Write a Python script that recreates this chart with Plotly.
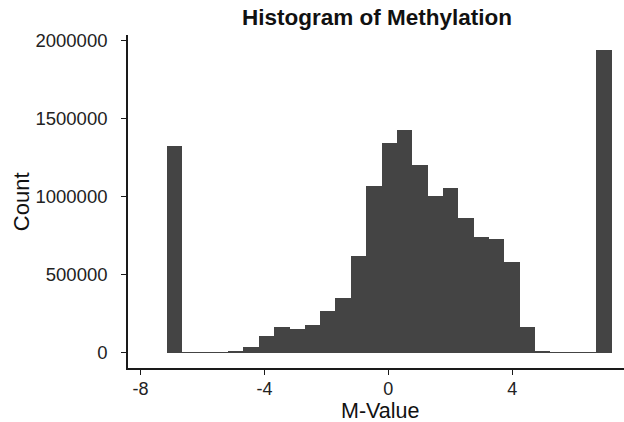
import plotly.graph_objects as go

# Histogram bins (M-Value bin centres) and counts
bin_centers = [-6.91, -6.42, -5.92, -5.43, -4.93, -4.43, -3.94, -3.44, -2.95, -2.45,
               -1.96, -1.46, -0.96, -0.47, 0.03, 0.52, 1.02, 1.51, 2.01, 2.51,
               3.00, 3.50, 3.99, 4.49, 4.98, 5.48, 5.98, 6.47, 6.97]
counts = [1323000, 1500, 1500, 2500, 7000, 40000, 110000, 166000, 155000, 180000,
          266000, 351000, 620000, 1067000, 1341000, 1426000, 1199000, 1003000, 1056000, 865000,
          738000, 731000, 582000, 166000, 7000, 2500, 300, 300, 1936000]
bin_width = 0.5

x_ticks = [-8, -4, 0, 4]
y_ticks = [0, 500000, 1000000, 1500000, 2000000]

title_text = "Histogram of Methylation"
x_title = "M-Value"
y_title = "Count"

FONT = "Liberation Sans, Arial, sans-serif"
AX = "#1a1a1a"

fig = go.Figure()
fig.add_trace(go.Bar(
    x=bin_centers, y=counts, width=bin_width,
    marker=dict(color="#444444", line=dict(width=0)),
    hoverinfo="x+y",
))

ymax = max(counts)
fig.update_layout(
    width=624, height=422,
    margin=dict(l=128, r=0, t=35, b=54),
    paper_bgcolor="white", plot_bgcolor="white",
    showlegend=False, bargap=0,
    font=dict(family=FONT, color=AX),
    title=dict(text="<b>" + title_text + "</b>", x=377 / 624, xanchor="center",
               y=1 - 17.5 / 422, yanchor="middle",
               font=dict(family=FONT, size=22.5, color="#111111")),
)
fig.update_xaxes(
    range=[-8.405, 7.61], tickvals=x_ticks, ticktext=[str(v) for v in x_ticks],
    showgrid=False, zeroline=False,
    showline=True, linecolor=AX, linewidth=1.6,
    ticks="outside", ticklen=5, tickwidth=1.4, tickcolor=AX,
    tickfont=dict(family=FONT, size=18, color="#222222"),
    ticklabelstandoff=-1,
)
fig.update_yaxes(
    range=[-0.05 * ymax, 1.05 * ymax], tickvals=y_ticks, ticktext=[str(v) for v in y_ticks],
    showgrid=False, zeroline=False,
    showline=True, linecolor=AX, linewidth=1.6,
    ticks="outside", ticklen=5, tickwidth=1.4, tickcolor=AX,
    tickfont=dict(family=FONT, size=18.5, color="#222222"),
    ticklabelstandoff=10,
)
fig.add_annotation(text=x_title, xref="paper", yref="paper",
                   x=(380 - 128) / 496, y=-(410.5 - 368) / 333,
                   xanchor="center", yanchor="middle", showarrow=False,
                   font=dict(family=FONT, size=21.5, color="#111111"))
fig.add_annotation(text=y_title, xref="paper", yref="paper",
                   x=-(128 - 21.7) / 496, y=0.5, textangle=-90,
                   xanchor="center", yanchor="middle", showarrow=False,
                   font=dict(family=FONT, size=22, color="#111111"))

fig.write_html("out.html", config={"displayModeBar": False},
               post_script="document.body.style.margin='0px';document.body.style.padding='0px';")
